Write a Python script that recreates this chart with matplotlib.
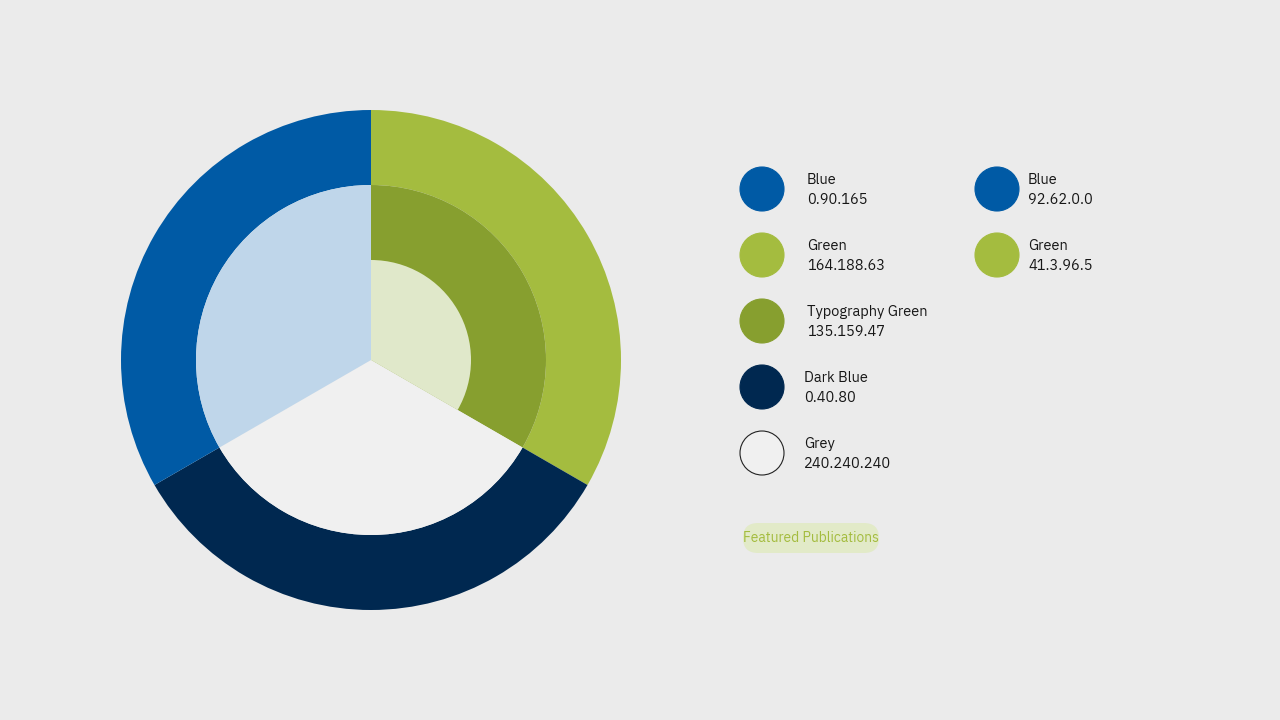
import matplotlib
matplotlib.use("Agg")
import matplotlib.pyplot as plt
from matplotlib.patches import Circle, FancyBboxPatch

plt.rcParams['font.family'] = ['IBM Plex Sans', 'Noto Sans', 'DejaVu Sans']

outer_values = [1, 1, 1]
outer_colors = ['#a4bc3f', '#002850', '#005aa5']
middle_values = [1, 1, 1]
middle_colors = ['#879f2f', '#f0f0f0', '#bfd6ea']
inner_values = [1, 2]
inner_colors = ['#e0e8ca', 'none']

legend_col1 = [("Blue", "0.90.165", '#005aa5'),
               ("Green", "164.188.63", '#a4bc3f'),
               ("Typography Green", "135.159.47", '#879f2f'),
               ("Dark Blue", "0.40.80", '#002850'),
               ("Grey", "240.240.240", '#f0f0f0')]
legend_col2 = [("Blue", "92.62.0.0", '#005aa5'),
               ("Green", "41.3.96.5", '#a4bc3f')]
badge_text = "Featured Publications"

W, H = 1280, 720
fig = plt.figure(figsize=(12.8, 7.2), dpi=100, facecolor='#ebebeb')
ax = fig.add_axes([(371 - 250) / W, (360 - 250) / H, 500 / W, 500 / H])
ax.pie(outer_values, colors=outer_colors, startangle=90, counterclock=False,
       radius=1, wedgeprops=dict(width=0.3, linewidth=0))
ax.pie(middle_values, colors=middle_colors, startangle=90, counterclock=False,
       radius=0.7, wedgeprops=dict(linewidth=0))
wedges, _ = ax.pie(inner_values, colors=inner_colors, startangle=90, counterclock=False,
                   radius=0.4, wedgeprops=dict(linewidth=0))
wedges[1].set_visible(False)
ax.set_xlim(-1, 1); ax.set_ylim(-1, 1)
ax.set_aspect('equal'); ax.axis('off')

lax = fig.add_axes([0, 0, 1, 1]); lax.set_xlim(0, W); lax.set_ylim(H, 0); lax.axis('off')
lax.set_zorder(-1) if False else None

def item(cx, cy, tx, name, code, color):
    ec = '#222222' if color == '#f0f0f0' else color
    lax.add_patch(Circle((cx, cy), 22, facecolor=color, edgecolor=ec, lw=0.8))
    lax.text(tx, cy - 9, name, fontsize=10.5, va='center', ha='left', color='#161616')
    lax.text(tx, cy + 11, code, fontsize=10.5, va='center', ha='left', color='#161616')

ys = [189, 255, 321, 387, 453]
txs = [807, 807, 807, 804, 804]
for (n, c, col), y, tx in zip(legend_col1, ys, txs):
    item(762, y, tx, n, c, col)
for (n, c, col), y in zip(legend_col2, ys):
    item(997, y, 1028, n, c, col)

lax.add_patch(FancyBboxPatch((743, 523), 136, 30, boxstyle="round,pad=0,rounding_size=15",
                             facecolor='#e2eac8', edgecolor='none'))
lax.text(811, 538, badge_text, fontsize=10, fontweight='bold', color='#a4bc3f',
         ha='center', va='center')

fig.savefig('out.png', dpi=100, facecolor=fig.get_facecolor())
